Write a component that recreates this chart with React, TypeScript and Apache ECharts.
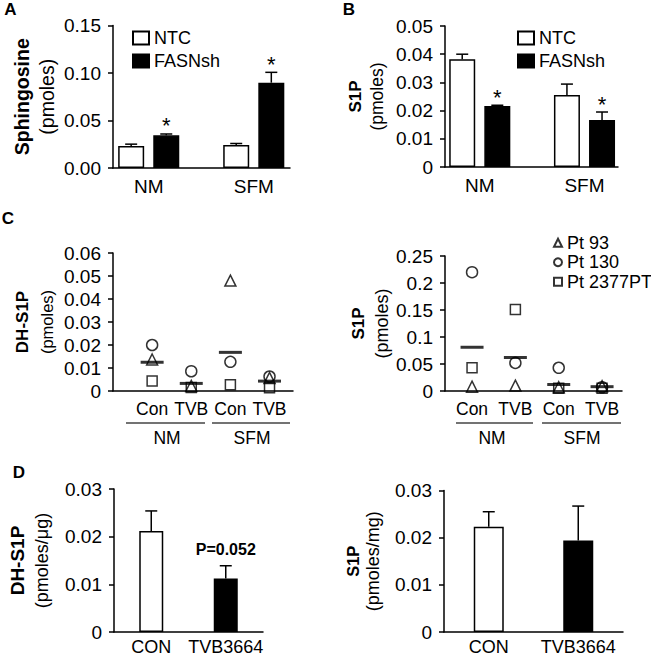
import React, { useEffect, useRef } from 'react';
import * as echarts from 'echarts';

const FONT = "'Liberation Sans', Arial, Helvetica, sans-serif";

// ---------- Panels A / B ----------
const groupsAB = ['NM', 'SFM'];
const groupPosAB = [1, 2];
const sphNTC = [0.0232, 0.0242];
const sphNTCErr = [0.0019, 0.0016];
const sphFASN = [0.0344, 0.0898];
const sphFASNErr = [0.0014, 0.0109];
const s1pNTC = [0.0382, 0.0255];
const s1pNTCErr = [0.0018, 0.0039];
const s1pFASN = [0.0216, 0.0167];
const s1pFASNErr = [0.0003, 0.0028];
const sigFASN = ['*', '*'];
const sigNone = ['', ''];

// ---------- Panel C ----------
const treatC = ['Con', 'TVB', 'Con', 'TVB'];
const treatPosC = [1, 2, 3, 4];
const mediaC = ['NM', 'SFM'];
const patients = ['Pt 93', 'Pt 130', 'Pt 2377PT'];
const dhPt93 = [0.0137, 0.0022, 0.048, 0.0057];
const dhPt130 = [0.02, 0.0086, 0.0127, 0.0063];
const dhPt2377 = [0.0043, 0.0015, 0.0027, 0.0014];
const dhMean = [0.0125, 0.0033, 0.0168, 0.0043];
const s1pPt93 = [0.008, 0.01, 0.007, 0.009];
const s1pPt130 = [0.22, 0.052, 0.043, 0.007];
const s1pPt2377 = [0.043, 0.151, 0.005, 0.005];
const s1pMean = [0.081, 0.062, 0.012, 0.008];

// ---------- Panel D ----------
const groupsD = ['CON', 'TVB3664'];
const dhD = [0.0212, 0.0112];
const dhDErr = [0.0042, 0.0027];
const s1pD = [0.0223, 0.0194];
const s1pDErr = [0.0032, 0.0073];
const dhDNote = ['', 'P=0.052'];
const noNote = ['', ''];

const BAR_W = 26;
const BAR_GAP = 0.35;
const BAR_OFF = (BAR_W + BAR_W * BAR_GAP) / 2;

const axisLine = { lineStyle: { color: '#000', width: 1.5 } };

function yName(bold: string, normal: string, bSize: number, nSize: number, lh: number, gap: number) {
  return {
    name: `{b|${bold}}\n{n|${normal}}`,
    nameLocation: 'middle',
    nameRotate: 90,
    nameGap: gap,
    nameTextStyle: {
      rich: {
        b: { fontSize: bSize, fontWeight: 'bold', lineHeight: lh, fontFamily: FONT, color: '#000' },
        n: { fontSize: nSize, lineHeight: lh, fontFamily: FONT, color: '#000' },
      },
    },
  };
}

function yAxisDef(grid: number, max: number, interval: number, fmt: ((v: number) => string) | undefined, nm: any) {
  return {
    type: 'value',
    gridIndex: grid,
    min: 0,
    max,
    interval,
    axisLine: { show: true, ...axisLine },
    axisTick: { show: true, length: 5, lineStyle: { color: '#000', width: 1.5 } },
    splitLine: { show: false },
    axisLabel: { color: '#000', fontFamily: FONT, fontSize: 19, margin: 12, formatter: fmt },
    ...nm,
  };
}

function xValueAxis(grid: number, min: number, max: number, pos: number[], labels: string[], size: number) {
  return {
    type: 'value',
    gridIndex: grid,
    min,
    max,
    axisLine: { show: true, onZero: false, ...axisLine },
    axisTick: { show: false },
    splitLine: { show: false },
    axisLabel: {
      color: '#000',
      fontFamily: FONT,
      fontSize: size,
      margin: 9,
      customValues: pos,
      formatter: (v: number) => {
        const i = pos.indexOf(Math.round(v));
        return i >= 0 ? labels[i] : '';
      },
    },
  };
}

function xCatAxis(grid: number) {
  return {
    type: 'category',
    gridIndex: grid,
    data: groupsD,
    axisLine: { show: true, ...axisLine },
    axisTick: { show: false },
    axisLabel: { color: '#000', fontFamily: FONT, fontSize: 18, margin: 6, interval: 0, hideOverlap: false },
  };
}

function errSeries(
  grid: number,
  xs: number[],
  vals: number[],
  errs: number[],
  offset: number,
  notes: string[],
  noteSize: number,
  noteBold: boolean,
  noteGap: number,
) {
  return {
    type: 'custom',
    xAxisIndex: grid,
    yAxisIndex: grid,
    silent: true,
    z: 5,
    data: vals.map((v, i) => [xs[i], v, errs[i]]),
    renderItem: (params: any, api: any) => {
      const x = api.value(0);
      const v = api.value(1);
      const e = api.value(2);
      const b = api.coord([x, v]);
      const t = api.coord([x, v + e]);
      const cx = b[0] + offset;
      const st = { stroke: '#000', lineWidth: 1.5 };
      const children: any[] = [
        { type: 'line', shape: { x1: cx, y1: b[1], x2: cx, y2: t[1] }, style: st },
        { type: 'line', shape: { x1: cx - 6, y1: t[1], x2: cx + 6, y2: t[1] }, style: st },
      ];
      const note = notes[params.dataIndex];
      if (note) {
        children.push({
          type: 'text',
          x: cx,
          y: t[1] - noteGap,
          style: {
            text: note,
            fontSize: noteSize,
            fontWeight: noteBold ? 'bold' : 'normal',
            fontFamily: FONT,
            fill: '#000',
            align: 'center',
            verticalAlign: 'middle',
          },
        });
      }
      return { type: 'group', children };
    },
  };
}

const hollow = { color: 'rgba(0,0,0,0)', borderColor: '#000', borderWidth: 1.5 };
const ptSymbols = ['triangle', 'circle', 'rect'];
const ptSizes = [11, 11, 10];

function patientSeries(grid: number, arrs: number[][]) {
  return arrs.map((arr, k) => ({
    type: 'scatter',
    name: patients[k],
    xAxisIndex: grid,
    yAxisIndex: grid,
    symbol: ptSymbols[k],
    symbolSize: ptSizes[k],
    itemStyle: hollow,
    z: 3,
    data: arr.map((v, i) => [treatPosC[i], v]),
  }));
}

function meanSeries(grid: number, arr: number[]) {
  return {
    type: 'scatter',
    name: 'mean',
    xAxisIndex: grid,
    yAxisIndex: grid,
    symbol: 'rect',
    symbolSize: [23, 3],
    itemStyle: { color: '#000' },
    z: 6,
    data: arr.map((v, i) => [treatPosC[i], v]),
  };
}

function txt(text: string, x: number, y: number, size: number, bold = false) {
  return {
    type: 'text',
    x,
    y,
    style: {
      text,
      fontSize: size,
      fontWeight: bold ? 'bold' : 'normal',
      fontFamily: FONT,
      fill: '#000',
      align: 'center',
      verticalAlign: 'middle',
    },
  };
}

function hline(x1: number, x2: number, y: number) {
  return { type: 'line', shape: { x1, y1: y, x2, y2: y }, style: { stroke: '#444', lineWidth: 1.5 } };
}

const fmt2 = (v: number) => v.toFixed(2);

const legendText = { fontSize: 18, lineHeight: 20, fontFamily: FONT, color: '#000' };

const option: any = {
  animation: false,
  backgroundColor: '#fff',
  grid: [
    { left: 113, top: 25.5, width: 177, height: 142.5, outerBoundsMode: 'none' },
    { left: 445, top: 26, width: 173, height: 141, outerBoundsMode: 'none' },
    { left: 113, top: 253, width: 180, height: 138, outerBoundsMode: 'none' },
    { left: 445, top: 256, width: 177, height: 135, outerBoundsMode: 'none' },
    { left: 114, top: 489, width: 149, height: 143, outerBoundsMode: 'none' },
    { left: 444, top: 490.5, width: 179, height: 141.5, outerBoundsMode: 'none' },
  ],
  xAxis: [
    xValueAxis(0, 0.66, 2.345, groupPosAB, groupsAB, 19),
    xValueAxis(1, 0.668, 2.32, groupPosAB, groupsAB, 19),
    xValueAxis(2, 0, 4.6, treatPosC, treatC, 17.5),
    xValueAxis(3, 0.376, 4.46, treatPosC, treatC, 17.5),
    xCatAxis(4),
    xCatAxis(5),
  ],
  yAxis: [
    yAxisDef(0, 0.15, 0.05, fmt2, yName('Sphingosine', '(pmoles)', 19.5, 19.5, 25, 53.5)),
    yAxisDef(1, 0.05, 0.01, undefined, yName('S1P', '(pmoles)', 17, 17.5, 22, 57)),
    yAxisDef(2, 0.06, 0.01, undefined, yName('DH-S1P', '(pmoles)', 17, 16.5, 25, 53.5)),
    yAxisDef(3, 0.25, 0.05, undefined, yName('S1P', '(pmoles)', 17, 18, 24, 51)),
    yAxisDef(4, 0.03, 0.01, undefined, yName('DH-S1P', '(pmoles/μg)', 19, 18, 25, 59.5)),
    yAxisDef(5, 0.03, 0.01, undefined, yName('S1P', '(pmoles/mg)', 16.5, 18, 20, 61)),
  ],
  legend: [
    {
      data: ['NTC', 'FASNsh'],
      left: 127,
      top: 23,
      orient: 'vertical',
      icon: 'rect',
      itemWidth: 16,
      itemHeight: 13,
      itemGap: 3,
      selectedMode: false,
      textStyle: legendText,
    },
    {
      data: ['NTC', 'FASNsh'],
      left: 512,
      top: 23,
      orient: 'vertical',
      icon: 'rect',
      itemWidth: 16,
      itemHeight: 13,
      itemGap: 3,
      selectedMode: false,
      textStyle: legendText,
    },
    {
      data: patients,
      left: 548,
      top: 228,
      orient: 'vertical',
      itemWidth: 8,
      itemHeight: 8,
      itemGap: 0,
      selectedMode: false,
      textStyle: { ...legendText, lineHeight: 19.5 },
    },
  ],
  series: [
    // A
    {
      type: 'bar', name: 'NTC', xAxisIndex: 0, yAxisIndex: 0, barWidth: BAR_W, barGap: '35%',
      itemStyle: { color: '#fff', borderColor: '#000', borderWidth: 1.5 },
      data: groupPosAB.map((x, i) => [x, sphNTC[i]]),
    },
    {
      type: 'bar', name: 'FASNsh', xAxisIndex: 0, yAxisIndex: 0, barWidth: BAR_W, barGap: '35%',
      itemStyle: { color: '#000', borderColor: '#000', borderWidth: 1.5 },
      data: groupPosAB.map((x, i) => [x, sphFASN[i]]),
    },
    errSeries(0, groupPosAB, sphNTC, sphNTCErr, -BAR_OFF, sigNone, 22, false, 8),
    errSeries(0, groupPosAB, sphFASN, sphFASNErr, BAR_OFF, sigFASN, 22, false, 8),
    // B
    {
      type: 'bar', name: 'NTC', xAxisIndex: 1, yAxisIndex: 1, barWidth: BAR_W, barGap: '35%',
      itemStyle: { color: '#fff', borderColor: '#000', borderWidth: 1.5 },
      data: groupPosAB.map((x, i) => [x, s1pNTC[i]]),
    },
    {
      type: 'bar', name: 'FASNsh', xAxisIndex: 1, yAxisIndex: 1, barWidth: BAR_W, barGap: '35%',
      itemStyle: { color: '#000', borderColor: '#000', borderWidth: 1.5 },
      data: groupPosAB.map((x, i) => [x, s1pFASN[i]]),
    },
    errSeries(1, groupPosAB, s1pNTC, s1pNTCErr, -BAR_OFF, sigNone, 22, false, 8),
    errSeries(1, groupPosAB, s1pFASN, s1pFASNErr, BAR_OFF, sigFASN, 22, false, 8),
    // C
    ...patientSeries(2, [dhPt93, dhPt130, dhPt2377]),
    meanSeries(2, dhMean),
    ...patientSeries(3, [s1pPt93, s1pPt130, s1pPt2377]),
    meanSeries(3, s1pMean),
    // D
    {
      type: 'bar', name: 'D1', xAxisIndex: 4, yAxisIndex: 4, barWidth: 24,
      itemStyle: { borderColor: '#000', borderWidth: 1.5 },
      data: dhD.map((v, i) => ({ value: v, itemStyle: { color: i === 0 ? '#fff' : '#000' } })),
    },
    errSeries(4, [0, 1], dhD, dhDErr, 0, dhDNote, 16, true, 16),
    {
      type: 'bar', name: 'D2', xAxisIndex: 5, yAxisIndex: 5, barWidth: 30,
      itemStyle: { borderColor: '#000', borderWidth: 1.5 },
      data: s1pD.map((v, i) => ({ value: v, itemStyle: { color: i === 0 ? '#fff' : '#000' } })),
    },
    errSeries(5, [0, 1], s1pD, s1pDErr, 0, noNote, 16, true, 16),
  ],
  graphic: [
    txt('A', 10.5, 9, 17, true),
    txt('B', 349, 9, 17, true),
    txt('C', 8, 218, 17, true),
    txt('D', 19, 472, 17, true),
    hline(126, 205, 423),
    hline(212, 290, 423),
    hline(456, 533, 423),
    hline(542, 621, 423),
    txt(mediaC[0], 167, 438, 17.5),
    txt(mediaC[1], 252, 438, 17.5),
    txt(mediaC[0], 492, 438, 17.5),
    txt(mediaC[1], 582, 438, 17.5),
  ],
};

export default function App() {
  const ref = useRef<HTMLDivElement>(null);
  useEffect(() => {
    const chart = echarts.init(ref.current!, null, { renderer: 'svg' });
    chart.setOption(option);
    return () => chart.dispose();
  }, []);
  return (
    <div
      ref={ref}
      style={{ position: 'absolute', left: 0, top: 0, width: 651, height: 659, background: '#fff' }}
    />
  );
}
